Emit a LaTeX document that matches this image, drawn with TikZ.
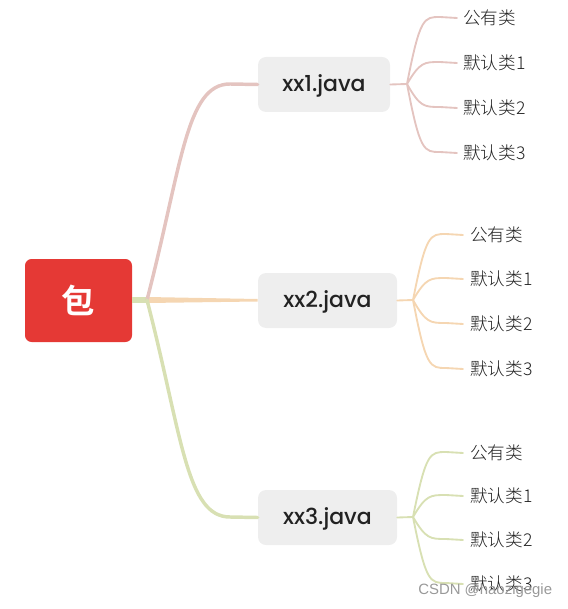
\documentclass[tikz,border=0pt]{standalone}
\usepackage{fontspec}
\setmainfont{Poppins Medium}
\newfontfamily\cjk{Noto Sans CJK SC Light}
\newfontfamily\cjkb{Noto Sans CJK SC Bold}
\newfontfamily\wm{Liberation Sans}
\definecolor{rootred}{HTML}{E53935}
\definecolor{boxgray}{HTML}{EEEEEE}
\definecolor{pinkl}{HTML}{E4C4C0}
\definecolor{orangel}{HTML}{F5D6B2}
\definecolor{greenl}{HTML}{D8E0B3}
\definecolor{txt}{HTML}{222222}
\begin{document}
\begin{tikzpicture}[x=0.75pt,y=-0.75pt,
  rootbox/.style={fill=rootred,rounded corners=5pt,minimum width=80.25pt,minimum height=62.25pt,inner sep=0pt,text=white,font=\cjkb\fontsize{25}{25}\selectfont},
  filebox/.style={fill=boxgray,rounded corners=6pt,minimum height=41.25pt,inner sep=0pt,text=txt,font=\fontsize{16.5}{18}\selectfont},
  filelabel/.style={inner sep=0pt,text=txt,font=\fontsize{16.5}{18}\selectfont},
  leaf/.style={anchor=west,inner sep=0pt,text=txt,font=\cjk\fontsize{13.2}{15}\selectfont},
  mainline/.style={line width=2.6pt,line cap=round},
  leafline/.style={line width=1.4pt,line cap=round}]
\useasboundingbox (0,0) rectangle (567,609);
% root
\node[rootbox] (root) at (78.5,300.5) {包};
% file boxes
\node[filebox,minimum width=99pt] (f1) at (324,84.5) {};
\node[filelabel] (t1) at (324,86) {xx1.java};
\node[filebox,minimum width=104.25pt] (f2) at (327.5,300.5) {};
\node[filelabel] (t2) at (327.5,302) {xx2.java};
\node[filebox,minimum width=104.25pt] (f3) at (327.5,517.5) {};
\node[filelabel] (t3) at (327.5,519) {xx3.java};
\coordinate (J) at (147,300);
% main connectors
\draw[greenl,line width=3.8pt] (root.east |- J) -- (J);
\fill[orangel] (147,297) -- (f2.west |- 0,299) -- (f2.west |- 0,301.5) -- (147,303) -- cycle;
\draw[pinkl,mainline] (J) .. controls (182,165) and (186,84) .. (230,84) -- (f1.west);
\draw[greenl,mainline] (J) .. controls (182,435) and (186,517) .. (230,517) -- (f3.west);
% leaves of f1
\coordinate (j1) at (407,84);
\draw[pinkl,leafline] (f1.east) -- (j1);
\foreach \y/\t [count=\i] in {17/公有类,62/默认类1,107/默认类2,152/默认类3}{
  \node[leaf] (a\i) at (463,\y+1) {\t};
  \draw[pinkl,leafline] (j1) .. controls (420,\y) and (424,\y) .. (440,\y) -- (a\i.west -| 457,0);
}
% leaves of f2
\coordinate (j2) at (413,300);
\draw[orangel,leafline] (f2.east) -- (j2);
\foreach \y/\t [count=\i] in {234/公有类,278/默认类1,323/默认类2,368/默认类3}{
  \node[leaf] (b\i) at (470,\y+1) {\t};
  \draw[orangel,leafline] (j2) .. controls (426,\y) and (430,\y) .. (446,\y) -- (b\i.west -| 463,0);
}
% leaves of f3
\coordinate (j3) at (413,517);
\draw[greenl,leafline] (f3.east) -- (j3);
\foreach \y/\t [count=\i] in {452/公有类,495/默认类1,539/默认类2,583/默认类3}{
  \node[leaf] (c\i) at (470,\y+1) {\t};
  \draw[greenl,leafline] (j3) .. controls (426,\y) and (430,\y) .. (446,\y) -- (c\i.west -| 463,0);
}
% watermark
\node[anchor=west,inner sep=0pt,text=black!40,font=\wm\fontsize{11.2}{13}\selectfont] (wm) at (418,591) {CSDN @haozigegie};
\end{tikzpicture}
\end{document}
